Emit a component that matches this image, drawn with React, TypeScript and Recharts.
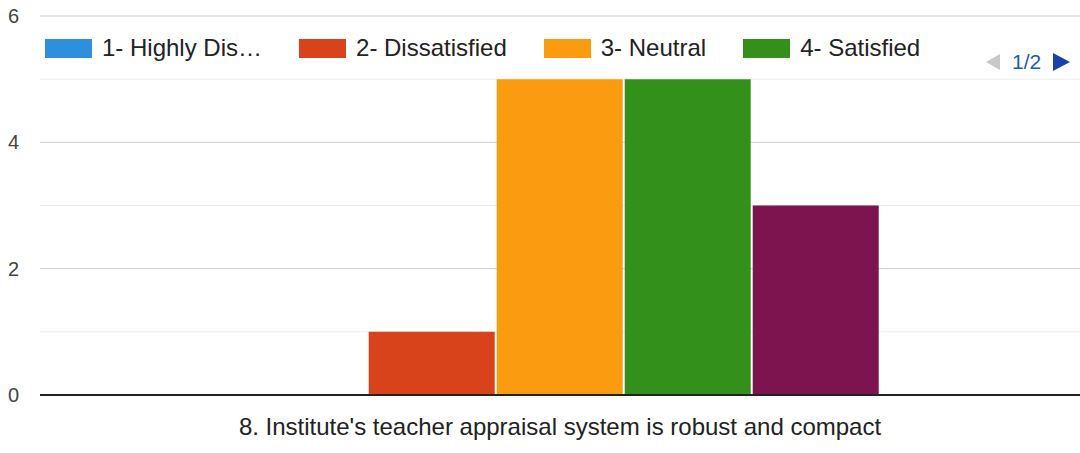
import { BarChart, Bar, XAxis, YAxis, CartesianGrid } from 'recharts';

const question = "8. Institute's teacher appraisal system is robust and compact";
const seriesKeys = ['v1', 'v2', 'v3', 'v4', 'v5'];
const seriesNames = ['1- Highly Dis…', '2- Dissatisfied', '3- Neutral', '4- Satisfied', '5- Highly Satisfied'];
const seriesValues = [0, 1, 5, 5, 3];
const seriesColors = ['#2f8fdc', '#d8431c', '#fb9c10', '#33901a', '#7d1450'];
const majorTicks = [0, 2, 4, 6];
const minorTicks = [1, 3, 5];
const legendPage = '1/2';

const row: Record<string, string | number> = { name: question };
seriesKeys.forEach((k, i) => { row[k] = seriesValues[i]; });
const data = [row];

const font = 'Arial, "Liberation Sans", sans-serif';

function YTick(props: any) {
  const { y, payload } = props;
  if (payload.value % 2 !== 0) return null;
  return (
    <text x={8} y={y} dy={7} fill="#444" fontSize={20} fontFamily={font}>
      {payload.value}
    </text>
  );
}

function XTick(props: any) {
  const { x, y, payload } = props;
  return (
    <text x={x} y={y} dy={32} textAnchor="middle" fill="#222" fontSize={24} fontFamily={font}>
      {payload.value}
    </text>
  );
}

export default function App() {
  return (
    <div style={{ position: 'fixed', left: 0, top: 0, width: 1080, height: 453, background: '#fff' }}>
      <BarChart
        width={1080}
        height={453}
        data={data}
        margin={{ top: 16, right: 0, left: 0, bottom: 28 }}
        barCategoryGap="19.3%"
        barGap={2}
      >
        <CartesianGrid vertical={false} horizontalValues={minorTicks} stroke="#ebebeb" />
        <CartesianGrid vertical={false} horizontalValues={majorTicks} stroke="#cfcfcf" />
        <YAxis
          width={40}
          domain={[0, 6]}
          ticks={[...majorTicks, ...minorTicks].sort()}
          axisLine={false}
          tickLine={false}
          tick={<YTick />}
        />
        <XAxis
          dataKey="name"
          height={30}
          axisLine={{ stroke: '#222', strokeWidth: 2 }}
          tickLine={false}
          tick={<XTick />}
        />
        {seriesKeys.map((k, i) => (
          <Bar key={k} dataKey={k} name={seriesNames[i]} fill={seriesColors[i]} isAnimationActive={false} />
        ))}
      </BarChart>
      <div
        style={{
          position: 'absolute', left: 45, top: 34, display: 'flex', alignItems: 'center',
          fontFamily: font, fontSize: 24, color: '#222',
        }}
      >
        {seriesNames.slice(0, 4).map((n, i) => (
          <div key={n} style={{ display: 'flex', alignItems: 'center', marginRight: 37 }}>
            <div style={{ width: 47, height: 19, background: seriesColors[i], marginRight: 10 }} />
            <span>{n}</span>
          </div>
        ))}
      </div>
      <div
        style={{
          position: 'absolute', left: 984, top: 50, display: 'flex', alignItems: 'center',
          fontFamily: font, fontSize: 21, color: '#1a5bc0',
        }}
      >
        <svg width={18} height={18}><polygon points="16,1 16,17 2,9" fill="#c8c8c8" /></svg>
        <span style={{ margin: '0 10px 0 10px' }}>{legendPage}</span>
        <svg width={20} height={20}><polygon points="2,1 2,19 19,10" fill="#1c3fa8" /></svg>
      </div>
    </div>
  );
}
